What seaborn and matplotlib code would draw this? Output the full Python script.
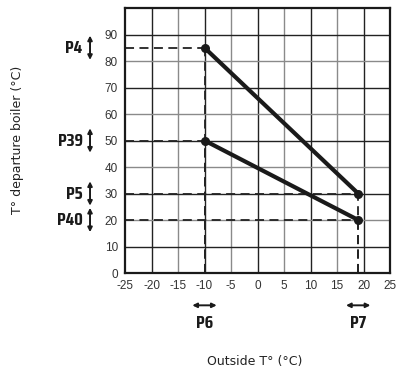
import matplotlib
matplotlib.use("Agg")
import matplotlib.pyplot as plt
import seaborn as sns
import pandas as pd

# Data
curve_names = ["P4-P5", "P39-P40"]
outside_t = [-10, 19]
curve_high = [85, 30]
curve_low = [50, 20]
x_ticks = [-25, -20, -15, -10, -5, 0, 5, 10, 15, 20, 25]
y_ticks = [0, 10, 20, 30, 40, 50, 60, 70, 80, 90]
y_params = ["P4", "P39", "P5", "P40"]
y_param_vals = [85, 50, 30, 20]
x_params = ["P6", "P7"]
x_param_vals = [-10, 19]

df = pd.DataFrame({
    "x": outside_t + outside_t,
    "y": curve_high + curve_low,
    "curve": [curve_names[0]] * 2 + [curve_names[1]] * 2,
})

sns.set_style("white")
plt.rcParams['font.family'] = ['Liberation Sans', 'DejaVu Sans']

fig = plt.figure(figsize=(3.99, 3.74), dpi=100)
ax = fig.add_axes([125/399, 1-273/374, 265/399, 265/374])

ax.set_xlim(-25, 25)
ax.set_ylim(0, 100)

# grid
for v in range(-20, 25, 5):
    ax.axvline(v, color="#222222" if v % 10 == 0 else "#8a8a8a", lw=1.0, zorder=1)
for v in range(10, 100, 10):
    ax.axhline(v, color="#222222" if v % 20 == 10 else "#8a8a8a", lw=1.0, zorder=1)

# dashed guide lines
for xv, yv in zip(outside_t + outside_t, curve_high + curve_low):
    ax.hlines(yv, -25, xv, colors="#222222", linestyles=(0, (5, 3)), lw=1.3, zorder=2)
    ax.vlines(xv, 0, yv, colors="#222222", linestyles=(0, (5, 3)), lw=1.3, zorder=2)

sns.lineplot(data=df, x="x", y="y", units="curve", estimator=None, color="#1a1a1a",
             lw=3, marker="o", markersize=6.5, markeredgewidth=0, ax=ax, zorder=4)

for s in ax.spines.values():
    s.set_color("#1a1a1a")
    s.set_linewidth(1.6)
    s.set_visible(True)

ax.set_xticks(x_ticks)
ax.set_yticks(y_ticks)
ax.set_xticklabels([str(t) for t in x_ticks], fontsize=8.5, color="#333333")
ax.set_yticklabels([str(t) for t in y_ticks], fontsize=8.5, color="#333333")
ax.tick_params(length=0, pad=5)
ax.set_xlabel("")
ax.set_ylabel("")

pfont = dict(fontsize=13, fontweight="bold",
             family=["Saira Condensed", "DejaVu Sans"], color="#1a1a1a")
for name, v in zip(y_params, y_param_vals):
    ax.annotate("", xy=(-31.6, v + 4.6), xytext=(-31.6, v - 4.6),
                arrowprops=dict(arrowstyle="<|-|>", color="#1a1a1a", lw=1.4,
                                mutation_scale=6.5, shrinkA=0, shrinkB=0),
                annotation_clip=False)
    ax.text(-33.0, v, name, ha="right", va="center", clip_on=False, **pfont)
for name, v in zip(x_params, x_param_vals):
    ax.annotate("", xy=(v - 2.3, -12.2), xytext=(v + 2.3, -12.2),
                arrowprops=dict(arrowstyle="<|-|>", color="#1a1a1a", lw=1.4,
                                mutation_scale=6.5, shrinkA=0, shrinkB=0),
                annotation_clip=False)
    ax.text(v, -18.8, name, ha="center", va="center", clip_on=False, **pfont)

lfont = dict(fontsize=9, color="#222222", family=["DejaVu Sans"])
fig.text(255/399, 1-362/374, "Outside T° (°C)", ha="center", va="center", **lfont)
fig.text(18/399, 1-140/374, "T° departure boiler (°C)", ha="center", va="center",
         rotation=90, **lfont)

fig.savefig("out.png", dpi=100)
